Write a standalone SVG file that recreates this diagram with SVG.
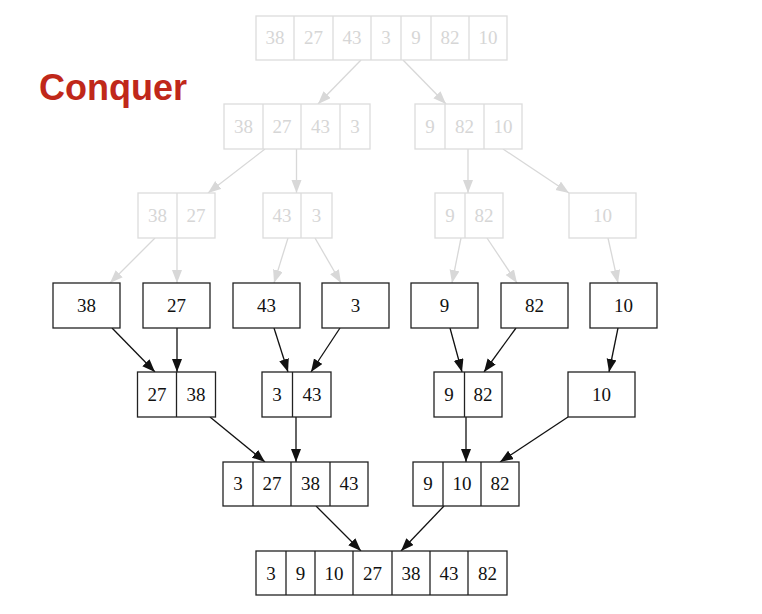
<svg xmlns="http://www.w3.org/2000/svg" width="762" height="614" viewBox="0 0 762 614">
<style>
.bx{fill:#fff;stroke:#222;stroke-width:1.3}
.dv{stroke:#222;stroke-width:1.3}
.t{font-family:"Liberation Serif","Times New Roman",serif;font-size:19px;fill:#111;text-anchor:middle}
.lt .bx,.lt .dv{stroke:#dcdcdc}
.lt .t{fill:#d6d6d6}
.e{stroke:#111;stroke-width:1.3;fill:none;marker-end:url(#ab)}
.eg{stroke:#d8d8d8;stroke-width:1.3;fill:none;marker-end:url(#ag)}
.title{font-family:"Liberation Sans",Arial,sans-serif;font-size:36px;font-weight:bold;fill:#c0281a}
</style>
<defs>
<marker id="ab" markerUnits="userSpaceOnUse" markerWidth="14" markerHeight="12" refX="13" refY="5" orient="auto"><path d="M0,0 L13,5 L0,10 z" fill="#111"/></marker>
<marker id="ag" markerUnits="userSpaceOnUse" markerWidth="14" markerHeight="12" refX="13" refY="5" orient="auto"><path d="M0,0 L13,5 L0,10 z" fill="#d8d8d8"/></marker>
</defs>
<rect width="762" height="614" fill="#fff"/>
<text class="title" x="39" y="100">Conquer</text>

<g id="edges">
<line class="eg" x1="361" y1="60" x2="318" y2="104"/>
<line class="eg" x1="403" y1="60" x2="446" y2="104"/>
<line class="eg" x1="265" y1="149" x2="208" y2="193"/>
<line class="eg" x1="296.5" y1="149" x2="296.5" y2="193"/>
<line class="eg" x1="468" y1="149" x2="468" y2="193"/>
<line class="eg" x1="503" y1="149" x2="569" y2="193"/>
<line class="eg" x1="155" y1="238" x2="110" y2="283"/>
<line class="eg" x1="177" y1="238" x2="177" y2="283"/>
<line class="eg" x1="288" y1="238" x2="274" y2="283"/>
<line class="eg" x1="315" y1="238" x2="341" y2="283"/>
<line class="eg" x1="461" y1="238" x2="452" y2="283"/>
<line class="eg" x1="487" y1="238" x2="517" y2="283"/>
<line class="eg" x1="608" y1="238" x2="618" y2="283"/>
<line class="e" x1="112" y1="328" x2="155" y2="372"/>
<line class="e" x1="177" y1="328" x2="177" y2="372"/>
<line class="e" x1="274" y1="328" x2="288" y2="372"/>
<line class="e" x1="340" y1="328" x2="311" y2="372"/>
<line class="e" x1="450" y1="328" x2="462" y2="372"/>
<line class="e" x1="516" y1="328" x2="484" y2="372"/>
<line class="e" x1="618" y1="328" x2="609" y2="372"/>
<line class="e" x1="210" y1="417" x2="265" y2="462"/>
<line class="e" x1="296" y1="417" x2="296" y2="462"/>
<line class="e" x1="466" y1="417" x2="466" y2="462"/>
<line class="e" x1="568" y1="417" x2="500" y2="462"/>
<line class="e" x1="316" y1="506" x2="361" y2="551"/>
<line class="e" x1="444" y1="506" x2="401" y2="551"/>
</g>

<g id="n1" class="lt">
<rect class="bx" x="256" y="16" width="251" height="44"/>
<path class="dv" d="M294,16V60M333,16V60M371,16V60M401,16V60M431,16V60M469,16V60"/>
<text class="t" x="275" y="44">38</text><text class="t" x="313.5" y="44">27</text><text class="t" x="352" y="44">43</text><text class="t" x="386" y="44">3</text><text class="t" x="416" y="44">9</text><text class="t" x="450" y="44">82</text><text class="t" x="488" y="44">10</text>
</g>

<g id="n2" class="lt">
<rect class="bx" x="224" y="104" width="146" height="45"/>
<path class="dv" d="M263,104V149M301,104V149M340,104V149"/>
<text class="t" x="243.5" y="133">38</text><text class="t" x="282" y="133">27</text><text class="t" x="320.5" y="133">43</text><text class="t" x="355" y="133">3</text>
</g>
<g id="n3" class="lt">
<rect class="bx" x="415" y="104" width="107" height="45"/>
<path class="dv" d="M445,104V149M484,104V149"/>
<text class="t" x="430" y="133">9</text><text class="t" x="464.5" y="133">82</text><text class="t" x="503" y="133">10</text>
</g>

<g id="n4" class="lt">
<rect class="bx" x="138" y="193" width="77" height="45"/>
<path class="dv" d="M177,193V238"/>
<text class="t" x="157.5" y="222">38</text><text class="t" x="196" y="222">27</text>
</g>
<g id="n5" class="lt">
<rect class="bx" x="263" y="193" width="69" height="45"/>
<path class="dv" d="M301,193V238"/>
<text class="t" x="282" y="222">43</text><text class="t" x="316.5" y="222">3</text>
</g>
<g id="n6" class="lt">
<rect class="bx" x="435" y="193" width="68" height="45"/>
<path class="dv" d="M465,193V238"/>
<text class="t" x="450" y="222">9</text><text class="t" x="484" y="222">82</text>
</g>
<g id="n7" class="lt">
<rect class="bx" x="569" y="193" width="67" height="45"/>
<text class="t" x="602.5" y="222">10</text>
</g>

<g id="n8"><rect class="bx" x="53" y="283" width="67" height="45"/><text class="t" x="86.5" y="312">38</text></g>
<g id="n9"><rect class="bx" x="143" y="283" width="67" height="45"/><text class="t" x="176.5" y="312">27</text></g>
<g id="n10"><rect class="bx" x="233" y="283" width="67" height="45"/><text class="t" x="266.5" y="312">43</text></g>
<g id="n11"><rect class="bx" x="322" y="283" width="67" height="45"/><text class="t" x="355.5" y="312">3</text></g>
<g id="n12"><rect class="bx" x="411" y="283" width="67" height="45"/><text class="t" x="444.5" y="312">9</text></g>
<g id="n13"><rect class="bx" x="501" y="283" width="67" height="45"/><text class="t" x="534.5" y="312">82</text></g>
<g id="n14"><rect class="bx" x="590" y="283" width="67" height="45"/><text class="t" x="623.5" y="312">10</text></g>

<g id="n15">
<rect class="bx" x="137.5" y="372" width="78" height="45"/>
<path class="dv" d="M176.5,372V417"/>
<text class="t" x="157" y="401">27</text><text class="t" x="196" y="401">38</text>
</g>
<g id="n16">
<rect class="bx" x="262" y="372" width="69" height="45"/>
<path class="dv" d="M292.5,372V417"/>
<text class="t" x="277" y="401">3</text><text class="t" x="312" y="401">43</text>
</g>
<g id="n17">
<rect class="bx" x="434" y="372" width="68" height="45"/>
<path class="dv" d="M464.5,372V417"/>
<text class="t" x="449" y="401">9</text><text class="t" x="483" y="401">82</text>
</g>
<g id="n18">
<rect class="bx" x="568" y="372" width="67" height="45"/>
<text class="t" x="601.5" y="401">10</text>
</g>

<g id="n19">
<rect class="bx" x="223" y="462" width="145" height="44"/>
<path class="dv" d="M253,462V506M291,462V506M330,462V506"/>
<text class="t" x="238" y="490">3</text><text class="t" x="272" y="490">27</text><text class="t" x="310.5" y="490">38</text><text class="t" x="349" y="490">43</text>
</g>
<g id="n20">
<rect class="bx" x="413" y="462" width="106" height="44"/>
<path class="dv" d="M443,462V506M481,462V506"/>
<text class="t" x="428" y="490">9</text><text class="t" x="462" y="490">10</text><text class="t" x="500" y="490">82</text>
</g>

<g id="n21">
<rect class="bx" x="256" y="551" width="251" height="44"/>
<path class="dv" d="M286,551V595M315,551V595M353,551V595M392,551V595M430,551V595M468,551V595"/>
<text class="t" x="271" y="579.5">3</text><text class="t" x="300.5" y="579.5">9</text><text class="t" x="334" y="579.5">10</text><text class="t" x="372.5" y="579.5">27</text><text class="t" x="411" y="579.5">38</text><text class="t" x="449" y="579.5">43</text><text class="t" x="487.5" y="579.5">82</text>
</g>
</svg>
